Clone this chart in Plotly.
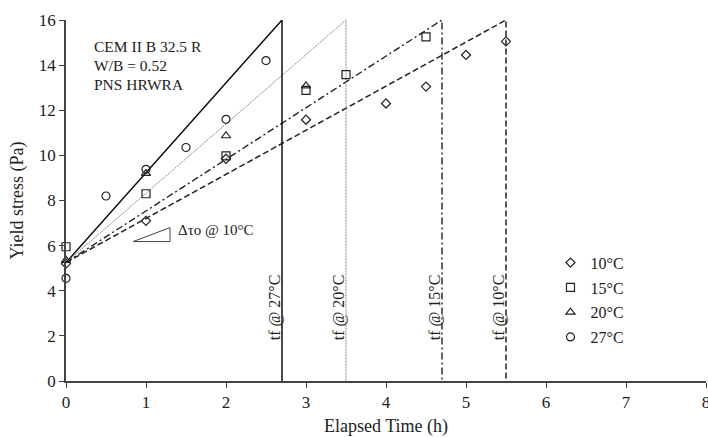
import plotly.graph_objects as go

# ---- data ----
temps = ["10°C", "15°C", "20°C", "27°C"]
t10 = [0, 1, 2, 3, 4, 4.5, 5, 5.5]
y10 = [5.2, 7.1, 9.85, 11.58, 12.3, 13.05, 14.45, 15.05]
t15 = [0, 1, 2, 3, 3.5, 4.5]
y15 = [5.95, 8.3, 9.98, 12.88, 13.58, 15.25]
t20 = [0, 1, 2, 3]
y20 = [5.35, 9.2, 10.87, 13.08]
t27 = [0, 0.5, 1, 1.5, 2, 2.5]
y27 = [4.55, 8.2, 9.38, 10.35, 11.6, 14.2]

tau0 = 5.25          # common intercept of the fitted lines
tau_end = 16         # yield stress at tf
tf = {"10°C": 5.5, "15°C": 4.7, "20°C": 3.5, "27°C": 2.7}

slope_tri_x = [0.84, 1.3, 1.3, 0.84]
slope_tri_y = [6.18, 6.18, 6.8, 6.18]

xticks = [0, 1, 2, 3, 4, 5, 6, 7, 8]
yticks = [0, 2, 4, 6, 8, 10, 12, 14, 16]

FONT = "Liberation Serif"
INK = "#222222"

styles = {
    "10°C": dict(dash="6px,3px", color="#222222", width=1.5),
    "15°C": dict(dash="7px,3px,2px,3px", color="#222222", width=1.4),
    "20°C": dict(dash="2px,1px", color="#8a8a8a", width=1),
    "27°C": dict(dash="solid", color="#111111", width=1.5),
}
symbols = {"10°C": "diamond-open", "15°C": "square-open",
           "20°C": "triangle-up-open", "27°C": "circle-open"}
sizes = {"10°C": 7, "15°C": 8, "20°C": 8, "27°C": 8}
series = {"10°C": (t10, y10), "15°C": (t15, y15), "20°C": (t20, y20), "27°C": (t27, y27)}

fig = go.Figure()

# fitted lines and vertical tf lines
for k in temps:
    fig.add_trace(go.Scatter(x=[0, tf[k], tf[k]], y=[tau0, tau_end, 0], mode="lines",
                             line=styles[k], showlegend=False, hoverinfo="skip"))

# slope triangle
fig.add_trace(go.Scatter(x=slope_tri_x, y=slope_tri_y, mode="lines",
                         line=dict(color="#444444", width=1), showlegend=False,
                         hoverinfo="skip"))

# data markers
for i, k in enumerate(temps):
    x, y = series[k]
    fig.add_trace(go.Scatter(x=x, y=y, mode="markers", name=k, legendgroup=k,
                             marker=dict(symbol=symbols[k], size=sizes[k], color=INK,
                                         line=dict(width=1.2, color=INK)),
                             cliponaxis=False))

annotations = []
for i, line in enumerate(["CEM II B 32.5 R", "W/B = 0.52", "PNS HRWRA"]):
    annotations.append(dict(x=0.32, y=14.82 - i * 0.85, xref="x", yref="y", text=line,
                            showarrow=False, xanchor="left", yanchor="middle",
                            font=dict(family=FONT, size=15.5, color=INK)))
annotations.append(dict(x=1.37, y=6.7, xref="x", yref="y", text="Δτo @ 10°C",
                        showarrow=False, xanchor="left", yanchor="middle",
                        font=dict(family=FONT, size=15, color=INK)))
for k in temps:
    annotations.append(dict(x=tf[k], y=3.27, xref="x", yref="y", text="tf @ " + k,
                            textangle=-90, showarrow=False, xanchor="right",
                            yanchor="middle", xshift=4,
                            font=dict(family=FONT, size=16, color=INK)))

fig.update_layout(
    width=708, height=437,
    margin=dict(l=66, r=2, t=20, b=56),
    paper_bgcolor="white", plot_bgcolor="white",
    font=dict(family=FONT, size=15, color=INK),
    showlegend=True,
    legend=dict(x=0.757, y=0.375, xanchor="left", yanchor="top",
                bgcolor="rgba(0,0,0,0)", tracegroupgap=1, itemwidth=30,
                font=dict(family=FONT, size=16, color=INK)),
    annotations=annotations,
    xaxis=dict(range=[0, 8], tickvals=xticks, ticks="outside", ticklen=5,
               tickcolor="#444", showline=True, linecolor="#444", linewidth=1.6,
               showgrid=False, zeroline=False, ticklabeloverflow="allow",
               automargin=False,
               title=dict(text="Elapsed Time (h)", font=dict(family=FONT, size=18), standoff=10),
               tickfont=dict(family=FONT, size=17)),
    yaxis=dict(range=[0, 16], tickvals=yticks, ticks="outside", ticklen=5,
               tickcolor="#444", showline=True, linecolor="#444", linewidth=1.6,
               showgrid=False, zeroline=False, automargin=False,
               title=dict(text="Yield stress (Pa)", font=dict(family=FONT, size=18), standoff=10),
               tickfont=dict(family=FONT, size=17)),
)

fig.write_html("out.html")
